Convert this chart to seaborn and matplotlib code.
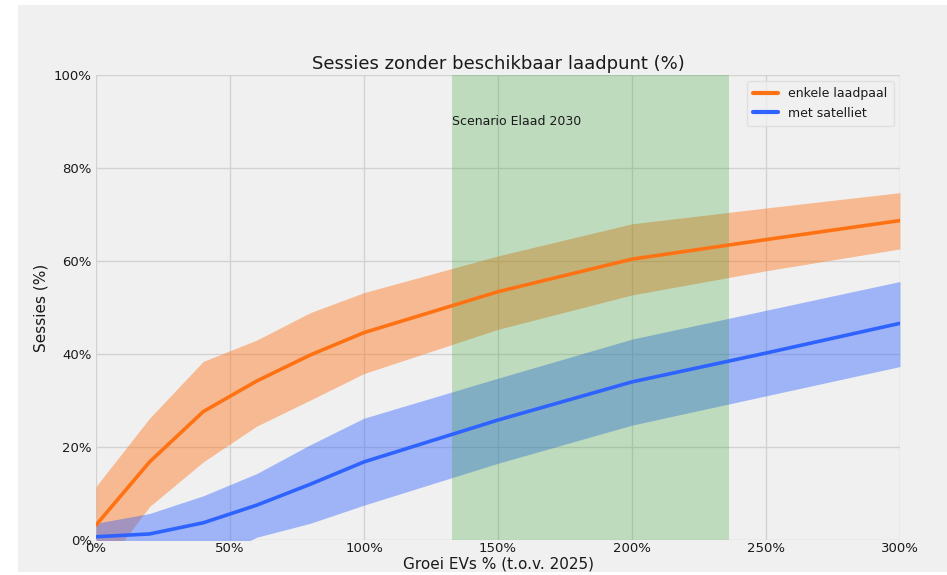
import matplotlib
matplotlib.use('Agg')
import matplotlib.pyplot as plt
from matplotlib.patches import Rectangle
from matplotlib.ticker import PercentFormatter
import pandas as pd
import seaborn as sns

# groei van het aantal EVs t.o.v. 2025 (%)
groei = [0, 20, 40, 60, 80, 100, 150, 200, 250, 300]

# enkele laadpaal: gemiddelde en band
enkel_mid = [3.2, 16.8, 27.6, 34.2, 39.8, 44.6, 53.4, 60.4, 64.6, 68.7]
enkel_hoog = [11.5, 26.2, 38.4, 43.0, 48.9, 53.2, 61.1, 68.0, 71.4, 74.7]
enkel_laag = [-8.0, 7.2, 16.8, 24.5, 30.1, 35.8, 45.3, 52.7, 57.9, 62.6]

# met satelliet: gemiddelde en band
sat_mid = [0.7, 1.3, 3.7, 7.5, 12.0, 16.8, 25.8, 34.0, 40.2, 46.6]
sat_hoog = [3.6, 5.7, 9.5, 14.3, 20.5, 26.2, 34.8, 43.2, 49.4, 55.6]
sat_laag = [0.0, -3.0, -5.0, 0.6, 3.6, 7.5, 16.5, 24.7, 31.0, 37.3]

# scenario Elaad 2030
scenario_start, scenario_eind = 132.8, 236.2

oranje = '#ff7214'
blauw = '#2f63ff'

sns.set_style('whitegrid', {'axes.facecolor': '#f0f0f0', 'grid.color': '#d2d2d2',
                            'axes.edgecolor': '#f0f0f0', 'text.color': '#1a1a1a',
                            'axes.labelcolor': '#1a1a1a', 'xtick.color': '#1a1a1a',
                            'ytick.color': '#1a1a1a'})
plt.rcParams['font.family'] = ['DejaVu Sans']

fig = plt.figure(figsize=(9.47, 5.75), dpi=100)
fig.patch.set_facecolor('white')
fig.patches.append(Rectangle((18 / 947, 3 / 575), 929 / 947, 567 / 575,
                             transform=fig.transFigure, facecolor='#f0f0f0',
                             edgecolor='none', zorder=-10))
ax = fig.add_axes([96 / 947, 35 / 575, 804 / 947, 465 / 575])

df = pd.DataFrame({
    'groei': groei * 2,
    'sessies': enkel_mid + sat_mid,
    'variant': ['enkele laadpaal'] * len(groei) + ['met satelliet'] * len(groei),
})

ax.fill_between(groei, enkel_laag, enkel_hoog, color=oranje, alpha=0.43, lw=0)
ax.fill_between(groei, sat_laag, sat_hoog, color=blauw, alpha=0.42, lw=0)
sns.lineplot(data=df, x='groei', y='sessies', hue='variant',
             palette=[oranje, blauw], lw=2.6, ax=ax)
ax.axvspan(scenario_start, scenario_eind, color='#2ca02c', alpha=0.25, lw=0)
ax.text(scenario_start, 90, 'Scenario Elaad 2030', va='center', ha='left', fontsize=9)

ax.set_xlim(0, 300)
ax.set_ylim(0, 100)
ax.set_xticks(range(0, 301, 50))
ax.set_yticks(range(0, 101, 20))
ax.xaxis.set_major_formatter(PercentFormatter(decimals=0))
ax.yaxis.set_major_formatter(PercentFormatter(decimals=0))
ax.tick_params(length=0, labelsize=9.5)
ax.tick_params(axis='x', pad=1.5)
ax.tick_params(axis='y', pad=3)
ax.grid(True, lw=1)
for s in ax.spines.values():
    s.set_visible(False)

ax.set_title('Sessies zonder beschikbaar laadpunt (%)', fontsize=13, pad=4)
ax.set_xlabel('Groei EVs % (t.o.v. 2025)', fontsize=11, labelpad=1)
ax.set_ylabel('Sessies (%)', fontsize=11, labelpad=4)

leg = ax.legend(loc='upper right', fontsize=9, frameon=True, borderpad=0.5)
leg.get_frame().set_facecolor('#f0f0f0')
leg.get_frame().set_edgecolor('#dcdcdc')
for line in leg.get_lines():
    line.set_linewidth(3)

plt.savefig('out.png', dpi=100)
